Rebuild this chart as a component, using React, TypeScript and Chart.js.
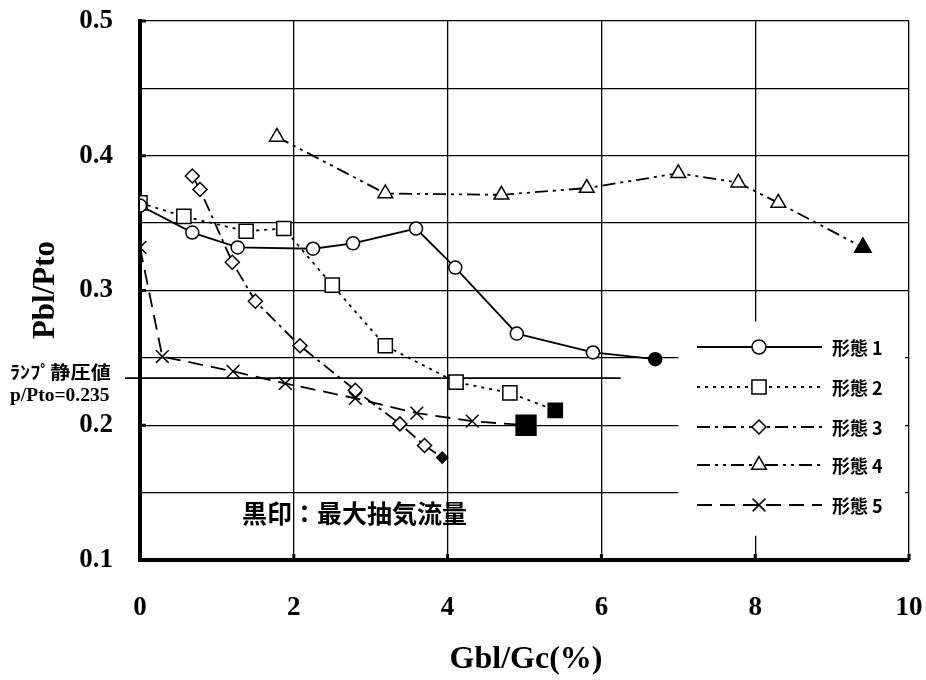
import React, { useEffect, useRef } from "react";
import { Chart, registerables } from "chart.js";

Chart.register(...registerables);

// ---- data ----
const xTickValues = [0, 2, 4, 6, 8, 10];
const yTickLabels = ["0.1", "0.2", "0.3", "0.4", "0.5"];

const seriesNames = ["形態 1", "形態 2", "形態 3", "形態 4", "形態 5"];

const s1X = [0, 0.68, 1.27, 2.25, 2.77, 3.59, 4.1, 4.9, 5.89, 6.7];
const s1Y = [0.363, 0.343, 0.332, 0.331, 0.335, 0.346, 0.317, 0.268, 0.254, 0.249];

const s2X = [0, 0.57, 1.38, 1.87, 2.5, 3.19, 4.11, 4.81, 5.4];
const s2Y = [0.365, 0.355, 0.344, 0.346, 0.304, 0.259, 0.232, 0.224, 0.211];

const s3X = [0.68, 0.78, 1.2, 1.5, 2.08, 2.8, 3.38, 3.7, 3.93];
const s3Y = [0.385, 0.375, 0.321, 0.292, 0.259, 0.226, 0.201, 0.185, 0.176];

const s4X = [1.78, 3.19, 4.7, 5.81, 7.0, 7.78, 8.3, 9.4];
const s4Y = [0.414, 0.372, 0.371, 0.376, 0.387, 0.38, 0.365, 0.332];

const s5X = [0, 0.29, 1.21, 1.89, 2.8, 3.6, 4.32, 5.02];
const s5Y = [0.332, 0.251, 0.24, 0.231, 0.22, 0.209, 0.203, 0.2];

const rampValue = 0.235;
const rampLineEndX = 6.25;
const rampLabel1 = "ﾗﾝﾌﾟ静圧値";
const rampLabel2 = "p/Pto=0.235";
const noteText = "黒印：最大抽気流量";
const xTitle = "Gbl/Gc(%)";
const yTitle = "Pbl/Pto";

// ---- styles ----
const pointStyles = ["circle", "rect", "rectRot", "triangle", "crossRot"];
const lastPointStyles = ["circle", "rect", "rectRot", "triangle", "rect"];
const pointRadii = [6.5, 10, 7, 8.5, 9];
const lastRadii = [6.5, 10, 5.5, 9.5, 14];
const dashes: number[][] = [[], [3, 5], [13, 5, 3, 5], [13, 5, 3, 5, 3, 5], [15, 8]];

const toPts = (xs: number[], ys: number[]) => xs.map((x, i) => ({ x, y: ys[i] }));
const seriesData = [toPts(s1X, s1Y), toPts(s2X, s2Y), toPts(s3X, s3Y), toPts(s4X, s4Y), toPts(s5X, s5Y)];

function drawMarker(ctx: CanvasRenderingContext2D, style: string, x: number, y: number, r: number) {
  ctx.save();
  ctx.setLineDash([]);
  ctx.lineWidth = 1.5;
  ctx.strokeStyle = "#000";
  ctx.fillStyle = "#fff";
  ctx.beginPath();
  if (style === "circle") {
    ctx.arc(x, y, r, 0, Math.PI * 2);
    ctx.fill();
    ctx.stroke();
  } else if (style === "rect") {
    const s = Math.SQRT1_2 * r;
    ctx.rect(x - s, y - s, 2 * s, 2 * s);
    ctx.fill();
    ctx.stroke();
  } else if (style === "rectRot") {
    ctx.moveTo(x, y - r);
    ctx.lineTo(x + r, y);
    ctx.lineTo(x, y + r);
    ctx.lineTo(x - r, y);
    ctx.closePath();
    ctx.fill();
    ctx.stroke();
  } else if (style === "triangle") {
    ctx.moveTo(x, y - r);
    ctx.lineTo(x + r * Math.sin((2 * Math.PI) / 3), y + r / 2);
    ctx.lineTo(x - r * Math.sin((2 * Math.PI) / 3), y + r / 2);
    ctx.closePath();
    ctx.fill();
    ctx.stroke();
  } else {
    const o = Math.SQRT1_2 * r;
    ctx.moveTo(x - o, y - o);
    ctx.lineTo(x + o, y + o);
    ctx.moveTo(x + o, y - o);
    ctx.lineTo(x - o, y + o);
    ctx.stroke();
  }
  ctx.restore();
}

const decorPlugin = {
  id: "decor",
  beforeDatasetsDraw(chart: any) {
    const ctx: CanvasRenderingContext2D = chart.ctx;
    const xs = chart.scales.x;
    const ys = chart.scales.y;
    const ca = chart.chartArea;
    ctx.save();
    // legend box (white, hides grid)
    const bx0 = xs.getPixelForValue(7.0);
    const bx1 = xs.getPixelForValue(9.95);
    const by0 = ys.getPixelForValue(0.277);
    const by1 = ys.getPixelForValue(0.118);
    ctx.fillStyle = "#fff";
    ctx.fillRect(bx0, by0, bx1 - bx0, by1 - by0);
    // ramp static pressure line
    ctx.strokeStyle = "#000";
    ctx.lineWidth = 1.6;
    ctx.beginPath();
    const yr = ys.getPixelForValue(rampValue);
    ctx.moveTo(ca.left - 15, yr);
    ctx.lineTo(xs.getPixelForValue(rampLineEndX), yr);
    ctx.stroke();
    ctx.restore();
  },
  afterDraw(chart: any) {
    const ctx: CanvasRenderingContext2D = chart.ctx;
    const xs = chart.scales.x;
    const ys = chart.scales.y;
    const ca = chart.chartArea;
    ctx.save();
    ctx.fillStyle = "#000";
    // legend
    const rowsY = [347, 387, 427, 465, 505];
    const lx0 = 697, lx1 = 822, mx = 759, tx = 832;
    seriesNames.forEach((name, i) => {
      ctx.save();
      ctx.strokeStyle = "#000";
      ctx.lineWidth = 1.8;
      ctx.setLineDash(dashes[i]);
      ctx.beginPath();
      ctx.moveTo(lx0, rowsY[i]);
      ctx.lineTo(lx1, rowsY[i]);
      ctx.stroke();
      ctx.restore();
      drawMarker(ctx, pointStyles[i], mx, rowsY[i], i === 1 ? 10 : i === 3 ? 8.5 : i === 4 ? 9 : 7);
      ctx.font = "bold 18px 'Noto Sans CJK JP'";
      ctx.textBaseline = "middle";
      ctx.textAlign = "left";
      ctx.fillText(name, tx, rowsY[i] + 1);
    });
    // note text
    ctx.font = "bold 25px 'Noto Sans CJK JP'";
    ctx.textBaseline = "middle";
    ctx.textAlign = "left";
    ctx.fillText(noteText, 242, 513);
    // ramp labels
    ctx.save();
    ctx.translate(10, 372);
    ctx.scale(1.12, 1);
    ctx.font = "bold 18px 'Noto Sans CJK JP'";
    ctx.fillText(rampLabel1, 0, 0);
    ctx.restore();
    ctx.font = "bold 19.5px 'Liberation Serif'";
    ctx.fillText(rampLabel2, 10, 396);
    // titles
    ctx.font = "bold 32px 'Liberation Serif'";
    ctx.textAlign = "center";
    ctx.fillText(xTitle, 526, 660);
    ctx.save();
    ctx.translate(46, 290);
    ctx.rotate(-Math.PI / 2);
    ctx.font = "bold 31px 'Liberation Serif'";
    ctx.fillText(yTitle, 0, 0);
    ctx.restore();
    // small inward tick marks on axes
    ctx.lineWidth = 3;
    ctx.strokeStyle = "#000";
    yTickLabels.forEach((t) => {
      const y = ys.getPixelForValue(parseFloat(t));
      ctx.beginPath();
      ctx.moveTo(ca.left, y);
      ctx.lineTo(ca.left + 6, y);
      ctx.stroke();
    });
    xTickValues.forEach((v) => {
      const x = xs.getPixelForValue(v);
      ctx.beginPath();
      ctx.moveTo(x, ca.bottom);
      ctx.lineTo(x, ca.bottom - 6);
      ctx.stroke();
    });
    ctx.restore();
  },
};

export default function App() {
  const ref = useRef<HTMLCanvasElement | null>(null);
  useEffect(() => {
    if (!ref.current) return;
    const datasets = seriesData.map((pts, i) => {
      const n = pts.length;
      return {
        label: seriesNames[i],
        data: pts,
        showLine: true,
        borderColor: "#000",
        borderWidth: 1.8,
        borderDash: dashes[i],
        pointStyle: pts.map((_, j) => (j === n - 1 ? lastPointStyles[i] : pointStyles[i])),
        pointRadius: pts.map((_, j) => (j === n - 1 ? lastRadii[i] : pointRadii[i])),
        pointBackgroundColor: pts.map((_, j) => (j === n - 1 ? "#000" : "#fff")),
        pointBorderColor: "#000",
        pointBorderWidth: 1.5,
        tension: 0,
      };
    });
    const zeroPad = (s: any) => {
      s.paddingTop = 0;
      s.paddingBottom = 0;
      s.paddingLeft = 0;
      s.paddingRight = 0;
    };
    const chart = new Chart(ref.current, {
      type: "scatter",
      data: { datasets },
      plugins: [decorPlugin],
      options: {
        animation: false,
        responsive: false,
        layout: { padding: { left: 0, right: 17, top: 21, bottom: 0 } },
        plugins: { legend: { display: false }, tooltip: { enabled: false } },
        scales: {
          x: {
            type: "linear",
            min: 0,
            max: 10,
            afterFit: (s: any) => {
              s.height = 120;
              zeroPad(s);
            },
            afterBuildTicks: (s: any) => {
              s.ticks = xTickValues.map((v) => ({ value: v }));
            },
            ticks: {
              color: "#000",
              padding: 32,
              font: { family: "'Liberation Serif'", size: 27, weight: "bold" },
              callback: (v: any) => String(v),
            },
            grid: { color: "#000", lineWidth: 1.3, drawTicks: false },
            border: { color: "#000", width: 4 },
          },
          y: {
            type: "linear",
            min: 0.1,
            max: 0.5,
            afterFit: (s: any) => {
              s.width = 140;
              zeroPad(s);
            },
            ticks: {
              stepSize: 0.05,
              color: "#000",
              padding: 27,
              font: { family: "'Liberation Serif'", size: 27, weight: "bold" },
              callback: (v: any) => {
                const k = Math.round(v * 100);
                return k % 10 === 0 ? yTickLabels[k / 10 - 1] : "";
              },
            },
            grid: { color: "#000", lineWidth: 1.3, drawTicks: false },
            border: { color: "#000", width: 4 },
          },
        },
      },
    } as any);
    return () => chart.destroy();
  }, []);
  return (
    <div style={{ position: "fixed", left: 0, top: 0, width: 926, height: 680, background: "#fff" }}>
      <canvas ref={ref} width={926} height={680} style={{ width: 926, height: 680 }} />
    </div>
  );
}
